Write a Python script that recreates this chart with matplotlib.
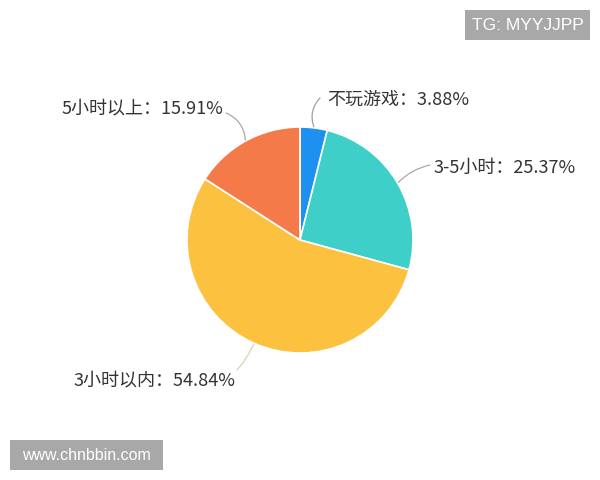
import matplotlib.pyplot as plt
from matplotlib.patches import Rectangle
import numpy as np

plt.rcParams['font.family'] = ['Noto Sans CJK SC', 'DejaVu Sans']

categories = ['不玩游戏', '3-5小时', '3小时以内', '5小时以上']
shares = [3.88, 25.37, 54.84, 15.91]
colors = ['#1E90F0', '#3ECFC8', '#FBC13F', '#F47A4A']

# label text anchors and leader-line end points (pixel coords, y up)
label_pos = [(327, 380), (434, 312), (235, 100), (223, 372)]
label_ha = ['left', 'left', 'right', 'right']
leader_end = [(320, 382), (430, 315), (237, 110), (226, 367)]
leader_rad = [0.3, 0.15, 0.08, -0.3]
leader_col = ['#A0A0A0', '#A8A8A8', '#D9D3B8', '#A8A8A8']

fig = plt.figure(figsize=(6, 4.8), dpi=100)
ax = fig.add_axes([0, 0, 1, 1])

cx, cy, r = 300, 240, 113
wedges, _ = ax.pie(shares, colors=colors, startangle=90, counterclock=False,
                   center=(cx, cy), radius=r, frame=True,
                   wedgeprops=dict(edgecolor='white', linewidth=1.2))
ax.set_xlim(0, 600)
ax.set_ylim(0, 480)
ax.set_aspect('equal')
ax.axis('off')

for i, w in enumerate(wedges):
    mid = np.deg2rad((w.theta1 + w.theta2) / 2)
    px = cx + (r + 1) * np.cos(mid)
    py = cy + (r + 1) * np.sin(mid)
    ax.annotate('', xy=(px, py), xytext=leader_end[i],
                arrowprops=dict(arrowstyle='-', color=leader_col[i], lw=0.9,
                                shrinkA=0, shrinkB=0,
                                connectionstyle=f'arc3,rad={leader_rad[i]}'))
    ax.text(label_pos[i][0], label_pos[i][1], f'{categories[i]}：{shares[i]:.2f}%',
            ha=label_ha[i], va='center', fontsize=13, color='#333333')

# watermark boxes
ax.add_patch(Rectangle((465, 440), 125, 30, fc='#A8A8A8', ec='none'))
ax.text(527.5, 455, 'TG: MYYJJPP', ha='center', va='center', fontsize=12.5,
        color='white', family=['Liberation Sans'])
ax.add_patch(Rectangle((10, 10), 153, 30, fc='#A8A8A8', ec='none'))
ax.text(86.5, 25, 'www.chnbbin.com', ha='center', va='center', fontsize=11.5,
        color='white', family=['Liberation Sans'])

fig.savefig('out.png', dpi=100, facecolor='white')
